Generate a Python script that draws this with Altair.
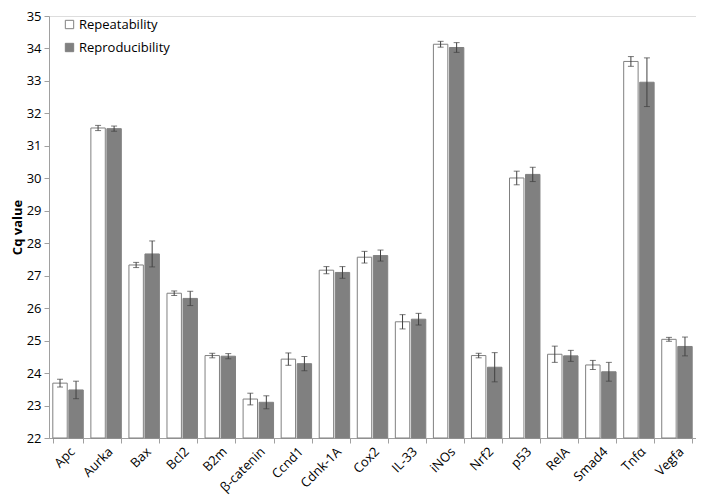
import altair as alt
import pandas as pd

genes = ["Apc", "Aurka", "Bax", "Bcl2", "B2m", "β-catenin", "Ccnd1", "Cdnk-1A", "Cox2",
         "IL-33", "iNOs", "Nrf2", "p53", "RelA", "Smad4", "Tnfα", "Vegfa"]
rep_mean = [23.69, 31.55, 27.33, 26.46, 24.54, 23.20, 24.43, 27.17, 27.57,
            25.58, 34.13, 24.54, 30.01, 24.58, 24.25, 33.60, 25.04]
rep_err = [0.12, 0.08, 0.08, 0.07, 0.07, 0.18, 0.19, 0.11, 0.18,
           0.22, 0.09, 0.07, 0.21, 0.25, 0.14, 0.15, 0.06]
repro_mean = [23.48, 31.53, 27.67, 26.30, 24.52, 23.10, 24.29, 27.10, 27.62,
              25.66, 34.03, 24.18, 30.12, 24.53, 24.04, 32.96, 24.82]
repro_err = [0.27, 0.08, 0.40, 0.22, 0.08, 0.20, 0.22, 0.18, 0.17,
             0.18, 0.15, 0.45, 0.22, 0.17, 0.29, 0.75, 0.29]
series = ["Repeatability", "Reproducibility"]
y_ticks = list(range(22, 36))

rows = []
for i, g in enumerate(genes):
    rows.append({"gene": g, "series": series[0], "mean": rep_mean[i], "err": rep_err[i]})
    rows.append({"gene": g, "series": series[1], "mean": repro_mean[i], "err": repro_err[i]})
df = pd.DataFrame(rows)

FONT = "Open Sans"
GRAY = "#808080"

x = alt.X("gene:N", sort=genes, title=None,
          scale=alt.Scale(paddingInner=0.2, paddingOuter=0.1),
          axis=alt.Axis(labelAngle=-45, labelAlign="right", labelBaseline="top",
                        labelFontSize=13, labelFont=FONT, labelColor="black",
                        tickBand="extent", tickColor="#a0a0a0", tickSize=5,
                        domainColor="#a0a0a0", labelPadding=2, labelOverlap=False))
xo = alt.XOffset("series:N", sort=series, scale=alt.Scale(paddingInner=0.1))
yscale = alt.Scale(domain=[22, 35], nice=False, zero=False)
yaxis = alt.Axis(values=y_ticks, grid=False, labelFontSize=13,
                 labelFont=FONT, labelColor="black", tickColor="#a0a0a0",
                 tickSize=5, domainColor="#a0a0a0", titleFont=FONT,
                 titleFontSize=13, titleFontWeight="bold", titleColor="black",
                 titlePadding=2, labelOverlap=False, labelPadding=3)

base = alt.Chart(df)

bars = base.mark_bar(strokeWidth=1, stroke=GRAY).encode(
    x=x, xOffset=xo,
    y=alt.Y("mean:Q", scale=yscale, title="Cq value", axis=yaxis),
    y2=alt.datum(22),
    fill=alt.Fill("series:N", sort=series,
                  scale=alt.Scale(domain=series, range=["white", GRAY]),
                  legend=alt.Legend(title=None, orient="none", legendX=14, legendY=2,
                                    symbolType="square", symbolSize=70,
                                    symbolStrokeColor=GRAY, symbolStrokeWidth=1,
                                    labelFont=FONT, labelFontSize=13, labelColor="black",
                                    rowPadding=9, labelOffset=3)),
)

err_base = base.transform_calculate(
    lo="datum.mean - datum.err", hi="datum.mean + datum.err"
)
rule = err_base.mark_rule(color="#404040", strokeWidth=1).encode(
    x=x, xOffset=xo, y=alt.Y("lo:Q", scale=yscale, title="Cq value", axis=yaxis), y2="hi:Q")
tick_lo = err_base.mark_tick(color="#404040", thickness=1, size=6).encode(
    x=x, xOffset=xo, y=alt.Y("lo:Q", scale=yscale, title="Cq value", axis=yaxis))
tick_hi = err_base.mark_tick(color="#404040", thickness=1, size=6).encode(
    x=x, xOffset=xo, y=alt.Y("hi:Q", scale=yscale, title="Cq value", axis=yaxis))

chart = alt.layer(bars, rule, tick_lo, tick_hi).properties(
    width=647, height=422,
    autosize=alt.AutoSizeParams(type="none"),
    padding={"left": 41, "top": 8, "right": 0, "bottom": 62},
).configure_view(stroke=None).configure(background="white")

chart.save("out.html", embed_options={"renderer": "svg", "actions": False})
